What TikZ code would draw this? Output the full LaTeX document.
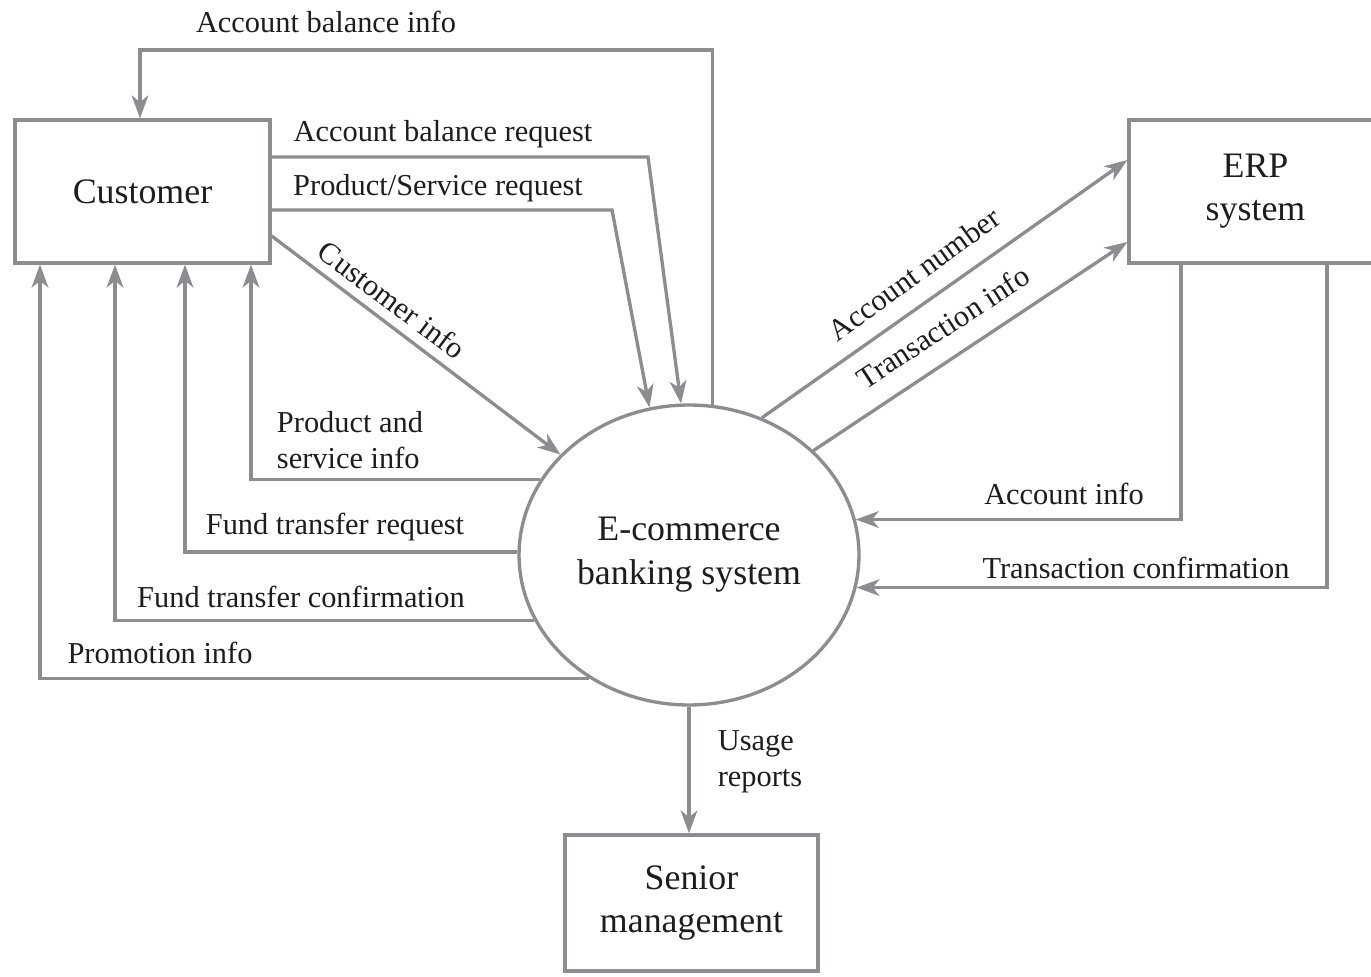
\documentclass[tikz,border=0pt]{standalone}
\usepackage{fontspec}
\setmainfont{Liberation Serif}
\usetikzlibrary{arrows.meta,shapes.geometric}
\definecolor{lg}{RGB}{140,141,145}
\definecolor{tx}{RGB}{30,28,30}
\begin{document}
\begin{tikzpicture}[x=0.02cm,y=-0.02cm,
 box/.style={draw=lg,line width=1.9pt,text=tx,font=\fontsize{20.4}{24.5}\selectfont,align=center,inner sep=0pt},
 flow/.style={draw=lg,line width=1.9pt,-{Stealth[length=13pt,width=9.5pt,inset=3.8pt]}},
 lbl/.style={text=tx,font=\fontsize{17.3}{20.4}\selectfont,inner sep=0pt}]
\clip (0,0) rectangle (1371,976);
% nodes
\node[box,minimum width=5.1cm,minimum height=2.86cm] (cust) at (142.5,191.5) {Customer};
\node[box,minimum width=5.06cm,minimum height=2.86cm] (erp) at (1255.5,191.5) {ERP\\system};
\node[box,minimum width=5.06cm,minimum height=2.72cm] (sen) at (691.5,903) {Senior\\management};
\node[box,ellipse,minimum width=6.8cm,minimum height=6cm,font=\fontsize{20.4}{25}\selectfont] (ell) at (689,555) {E-commerce\\banking system};
% helper coordinates
\coordinate (abiC) at (140,50);
\coordinate (abr) at (648,157);
\coordinate (psr) at (612,210);
\coordinate (x1) at (251,0);
\coordinate (x2) at (185,0);
\coordinate (x3) at (115,0);
\coordinate (x4) at (40,0);
\coordinate (an) at (0,160);
\coordinate (ti) at (0,242);
\coordinate (ai) at (1181,0);
\coordinate (tc) at (1327,0);
% connectors
\draw[flow] (ell.81.2) |- (abiC) -- (cust.north -| abiC);
\draw[flow] (cust.east |- abr) -- (abr) -- (ell.93);
\draw[flow] (cust.east |- psr) -- (psr) -- (ell.105);
\draw[flow] (cust.-19.6) -- (ell.142.5);
\draw[flow] (ell.153.8) -| (cust.south -| x1);
\draw[flow] (ell.179) -| (cust.south -| x2);
\draw[flow] (ell.-157.8) -| (cust.south -| x3);
\draw[flow] (ell.-129.7) -| (cust.south -| x4);
\draw[flow] (ell.62.5) -- (erp.west |- an);
\draw[flow] (ell.40.8) -- (erp.west |- ti);
\draw[flow] (erp.south -| ai) |- (ell.12.7);
\draw[flow] (erp.south -| tc) |- (ell.-11.6);
\draw[flow] (ell.south) -- (sen.north -| ell.south);
% labels
\node[lbl] (l1) at (326,22) {Account balance info};
\node[lbl] (l2) at (443,134) {Account balance request};
\node[lbl] (l3) at (438,188) {Product/Service request};
\node[lbl,rotate=-37] (l4) at (392,300) {Customer info};
\node[lbl,align=left] (l5) at (350,440) {Product and\\service info};
\node[lbl] (l6) at (335,527) {Fund transfer request};
\node[lbl] (l7) at (301,597) {Fund transfer confirmation};
\node[lbl] (l8) at (160,653) {Promotion info};
\node[lbl,rotate=36] (l9) at (914,274) {Account number};
\node[lbl,rotate=33] (l10) at (943,327) {Transaction info};
\node[lbl] (l11) at (1064,494) {Account info};
\node[lbl] (l12) at (1136,568) {Transaction confirmation};
\node[lbl,align=left] (l13) at (760,762) {Usage\\reports};
\end{tikzpicture}
\end{document}
